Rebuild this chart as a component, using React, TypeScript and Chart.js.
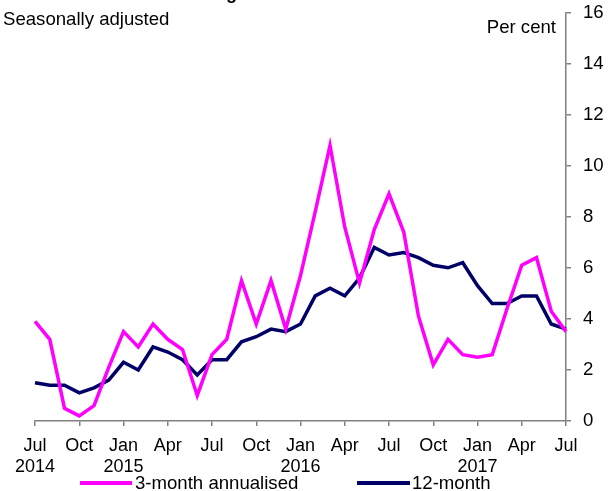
import React, { useEffect, useRef } from 'react';
import { Chart, registerables } from 'chart.js';

Chart.register(...registerables);

const categories: string[] = [
  'Jul 2014', 'Aug 2014', 'Sep 2014', 'Oct 2014', 'Nov 2014', 'Dec 2014',
  'Jan 2015', 'Feb 2015', 'Mar 2015', 'Apr 2015', 'May 2015', 'Jun 2015',
  'Jul 2015', 'Aug 2015', 'Sep 2015', 'Oct 2015', 'Nov 2015', 'Dec 2015',
  'Jan 2016', 'Feb 2016', 'Mar 2016', 'Apr 2016', 'May 2016', 'Jun 2016',
  'Jul 2016', 'Aug 2016', 'Sep 2016', 'Oct 2016', 'Nov 2016', 'Dec 2016',
  'Jan 2017', 'Feb 2017', 'Mar 2017', 'Apr 2017', 'May 2017', 'Jun 2017',
  'Jul 2017',
];

const threeMonthAnnualised: number[] = [
  3.9, 3.2, 0.5, 0.2, 0.6, 2.1, 3.5, 2.9, 3.8, 3.2, 2.8, 1.0,
  2.6, 3.2, 5.5, 3.8, 5.5, 3.6, 5.7, 8.2, 10.8, 7.6, 5.4, 7.5,
  8.9, 7.4, 4.1, 2.2, 3.2, 2.6, 2.5, 2.6, 4.4, 6.1, 6.4, 4.3,
  3.5,
];

const twelveMonth: number[] = [
  1.5, 1.4, 1.4, 1.1, 1.3, 1.6, 2.3, 2.0, 2.9, 2.7, 2.4, 1.8,
  2.4, 2.4, 3.1, 3.3, 3.6, 3.5, 3.8, 4.9, 5.2, 4.9, 5.6, 6.8,
  6.5, 6.6, 6.4, 6.1, 6.0, 6.2, 5.3, 4.6, 4.6, 4.9, 4.9, 3.8,
  3.6,
];

const yTickMin = 0;
const yTickMax = 16;
const yTickStep = 2;

const seriesNames = ['3-month annualised', '12-month'];
const seriesColors = ['#ff00ff', '#000066'];

const titleText = 'Housing Credit Growth';
const subtitleText = 'Seasonally adjusted';
const unitText = 'Per cent';

const FONT = '"Liberation Sans", Arial, sans-serif';
const FS = 18.6;

const textPlugin = {
  id: 'textPlugin',
  afterDraw(chart: any) {
    const ctx = chart.ctx as CanvasRenderingContext2D;
    ctx.save();
    ctx.fillStyle = '#000';
    // title (mostly cut off at the top)
    ctx.font = `bold 18px ${FONT}`;
    ctx.textAlign = 'left';
    ctx.textBaseline = 'alphabetic';
    const pre = ctx.measureText('Housin').width;
    ctx.fillText(titleText, 226 - pre, -1);
    // subtitle
    ctx.font = `${FS}px ${FONT}`;
    ctx.fillText(subtitleText, 3, 25);
    // unit
    ctx.textAlign = 'right';
    ctx.fillText(unitText, 556, 33);
    // legend
    const lineY = 483;
    const textY = 489;
    const items = [
      { x0: 80, x1: 132, tx: 135 },
      { x0: 357, x1: 410, tx: 412 },
    ];
    items.forEach((it, i) => {
      ctx.strokeStyle = seriesColors[i];
      ctx.lineWidth = 4;
      ctx.beginPath();
      ctx.moveTo(it.x0, lineY);
      ctx.lineTo(it.x1, lineY);
      ctx.stroke();
      ctx.textAlign = 'left';
      ctx.fillText(seriesNames[i], it.tx, textY);
    });
    ctx.restore();
  },
};

export default function App() {
  const canvasRef = useRef<HTMLCanvasElement | null>(null);

  useEffect(() => {
    const canvas = canvasRef.current;
    if (!canvas) return;
    const chart = new Chart(canvas, {
      type: 'line',
      data: {
        labels: categories,
        datasets: [
          {
            label: seriesNames[0],
            data: threeMonthAnnualised,
            borderColor: seriesColors[0],
            backgroundColor: seriesColors[0],
            borderWidth: 3.5,
            pointRadius: 0,
            tension: 0,
            fill: false,
          },
          {
            label: seriesNames[1],
            data: twelveMonth,
            borderColor: seriesColors[1],
            backgroundColor: seriesColors[1],
            borderWidth: 3.5,
            pointRadius: 0,
            tension: 0,
            fill: false,
          },
        ],
      },
      options: {
        responsive: false,
        animation: false,
        devicePixelRatio: 1,
        layout: { padding: { left: 35, top: 12.5, right: 0, bottom: 0 } },
        plugins: {
          legend: { display: false },
          tooltip: { enabled: false },
          title: { display: false },
        },
        scales: {
          x: {
            type: 'category',
            offset: false,
            grid: {
              drawOnChartArea: false,
              drawTicks: true,
              tickLength: 5,
              color: '#808080',
              lineWidth: 1.5,
            },
            border: { display: true, color: '#808080', width: 1.5 },
            ticks: {
              autoSkip: false,
              maxRotation: 0,
              minRotation: 0,
              padding: 9.5,
              color: '#000',
              font: { family: FONT, size: 18, lineHeight: 1.15 },
              callback: (_v: any, index: number) => {
                if (index % 3 !== 0) return null;
                const [mon, yr] = categories[index].split(' ');
                if (index === 0 || mon === 'Jan') return [mon, yr];
                return mon;
              },
            },
            afterFit: (scale: any) => {
              scale.height = 70;
              scale.paddingLeft = 0;
              scale.paddingRight = 0;
            },
          },
          y: {
            position: 'right',
            min: yTickMin,
            max: yTickMax,
            grid: {
              drawOnChartArea: false,
              drawTicks: true,
              tickLength: 5,
              color: '#808080',
              lineWidth: 1.5,
            },
            border: { display: true, color: '#808080', width: 1.5 },
            ticks: {
              stepSize: yTickStep,
              padding: 12,
              color: '#000',
              font: { family: FONT, size: FS },
            },
            afterFit: (scale: any) => {
              scale.width = 48;
              scale.paddingTop = 0;
              scale.paddingBottom = 0;
            },
          },
        },
      },
      plugins: [textPlugin],
    });
    return () => {
      chart.destroy();
    };
  }, []);

  return (
    <div style={{ position: 'absolute', left: 0, top: 0, width: 614, height: 491, background: '#fff' }}>
      <canvas ref={canvasRef} width={614} height={491} style={{ display: 'block' }} />
    </div>
  );
}
